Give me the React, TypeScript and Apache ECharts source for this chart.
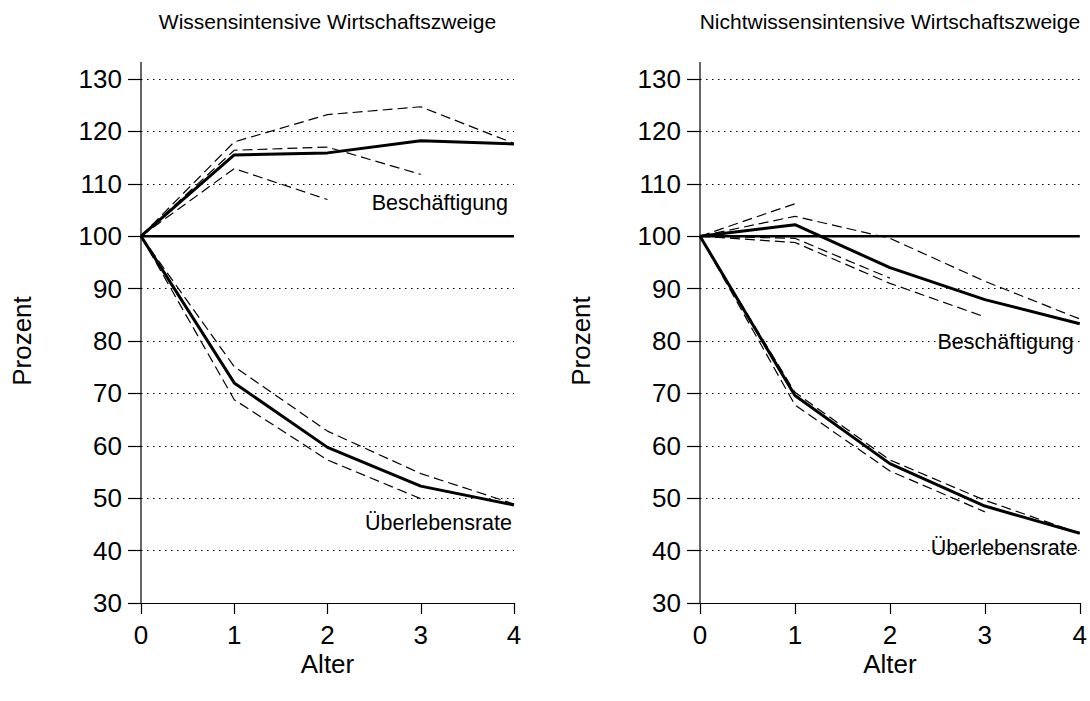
import React, { useEffect, useRef } from "react";
import * as echarts from "echarts";

// ---- data ----
const AGES = [0, 1, 2, 3, 4];
const Y_MIN = 30;
const Y_MAX = 130;
const Y_STEP = 10;
const X_MIN = 0;
const X_MAX = 4;

const TITLES = ["Wissensintensive Wirtschaftszweige", "Nichtwissensintensive Wirtschaftszweige"];
const Y_NAME = "Prozent";
const X_NAME = "Alter";
const LABEL_EMP = "Beschäftigung";
const LABEL_SURV = "Überlebensrate";

const BASELINE = [100, 100, 100, 100, 100];

// Left panel (Wissensintensive)
const L_EMP_MAIN = [100, 115.5, 115.9, 118.2, 117.6];
const L_EMP_D1 = [100, 118.0, 123.2, 124.7, 117.7];
const L_EMP_D2 = [100, 116.4, 117.0, 111.8];
const L_EMP_D3 = [100, 112.9, 107.0];
const L_SURV_MAIN = [100, 72.0, 59.7, 52.3, 48.7];
const L_SURV_D1 = [100, 75.1, 62.8, 54.7, 48.9];
const L_SURV_D2 = [100, 68.8, 57.3, 49.9];

// Right panel (Nichtwissensintensive)
const R_EMP_MAIN = [100, 102.2, 94.0, 87.9, 83.3];
const R_EMP_D1 = [100, 106.2];
const R_EMP_D2 = [100, 103.8, 99.6, 91.4, 84.2];
const R_EMP_D3 = [100, 99.6, 92.0];
const R_EMP_D4 = [100, 98.8, 91.0, 84.6];
const R_SURV_MAIN = [100, 69.6, 56.6, 48.5, 43.3];
const R_SURV_D1 = [100, 70.2, 57.3, 49.6, 43.3];
const R_SURV_D2 = [100, 67.8, 55.2, 47.4];

const PANELS = [
  {
    dashed: [L_EMP_D1, L_EMP_D2, L_EMP_D3, L_SURV_D1, L_SURV_D2],
    solid: [L_EMP_MAIN, L_SURV_MAIN],
    empLabelAt: [4, 106.4],
    survLabelAt: [4, 45.3],
  },
  {
    dashed: [R_EMP_D1, R_EMP_D2, R_EMP_D3, R_EMP_D4, R_SURV_D1, R_SURV_D2],
    solid: [R_EMP_MAIN, R_SURV_MAIN],
    empLabelAt: [4, 79.8],
    survLabelAt: [4, 40.5],
  },
];

const FONT = "'Liberation Sans', Arial, sans-serif";
const GRIDS = [
  { left: 141, top: 79, width: 373, height: 524 },
  { left: 700, top: 79, width: 382, height: 524 },
];

const toPts = (vals: number[]) => vals.map((v, i) => [AGES[i], v]);

export default function App() {
  const ref = useRef<HTMLDivElement>(null);
  useEffect(() => {
    if (!ref.current) return;
    const chart = echarts.init(ref.current, null, { renderer: "svg" });

    const series: any[] = [];
    PANELS.forEach((p, gi) => {
      p.dashed.forEach((d) =>
        series.push({
          type: "line",
          xAxisIndex: gi,
          yAxisIndex: gi,
          data: toPts(d),
          symbol: "none",
          lineStyle: { color: "#000", width: 1.2, type: [10, 5] },
          z: 3,
        })
      );
      series.push({
        type: "line",
        xAxisIndex: gi,
        yAxisIndex: gi,
        data: toPts(BASELINE),
        symbol: "none",
        lineStyle: { color: "#000", width: 2.6 },
        z: 4,
      });
      p.solid.forEach((d) =>
        series.push({
          type: "line",
          xAxisIndex: gi,
          yAxisIndex: gi,
          data: toPts(d),
          symbol: "none",
          lineStyle: { color: "#000", width: 3 },
          z: 5,
        })
      );
    });

    chart.setOption({
      animation: false,
      backgroundColor: "#fff",
      textStyle: { fontFamily: FONT },
      grid: GRIDS.map((g) => ({ ...g, containLabel: false })),
      xAxis: GRIDS.map((_, gi) => ({
        type: "value",
        gridIndex: gi,
        min: X_MIN,
        max: X_MAX,
        interval: 1,
        axisLine: { show: true, lineStyle: { color: "#000", width: 1.2 } },
        axisTick: { show: true, length: 11, lineStyle: { color: "#000", width: 1.2 } },
        axisLabel: { color: "#000", fontSize: 26, margin: 19, fontFamily: FONT },
        splitLine: { show: false },
      })),
      yAxis: GRIDS.map((_, gi) => ({
        type: "value",
        gridIndex: gi,
        min: Y_MIN,
        max: Y_MAX,
        interval: Y_STEP,
        axisLine: { show: false },
        axisTick: { show: true, length: 13, lineStyle: { color: "#000", width: 1.2 } },
        axisLabel: { color: "#000", fontSize: 26, margin: 19, fontFamily: FONT },
        splitLine: { show: true, lineStyle: { color: "#000", width: 1.2, type: [1.5, 4.5] } },
      })),
      series,
    });

    const graphic: any[] = [];
    GRIDS.forEach((g, gi) => {
      const top = chart.convertToPixel({ gridIndex: gi } as any, [X_MIN, Y_MAX]) as number[];
      const bottom = chart.convertToPixel({ gridIndex: gi } as any, [X_MIN, Y_MIN]) as number[];
      const right = chart.convertToPixel({ gridIndex: gi } as any, [X_MAX, Y_MIN]) as number[];
      const cx = (bottom[0] + right[0]) / 2;
      const cy = (top[1] + bottom[1]) / 2;
      graphic.push({
        type: "line",
        shape: { x1: top[0], y1: top[1] - 17, x2: bottom[0], y2: bottom[1] },
        style: { stroke: "#000", lineWidth: 1.2 },
        z: 10,
      });
      graphic.push({
        type: "text",
        x: cx,
        y: 21,
        style: { text: TITLES[gi], fontSize: 21, fontFamily: FONT, fill: "#000", align: "center", verticalAlign: "middle" },
      });
      graphic.push({
        type: "text",
        x: cx,
        y: 664,
        style: { text: X_NAME, fontSize: 26, fontFamily: FONT, fill: "#000", align: "center", verticalAlign: "middle" },
      });
      graphic.push({
        type: "text",
        x: bottom[0] - 119,
        y: cy,
        rotation: Math.PI / 2,
        style: { text: Y_NAME, fontSize: 26, fontFamily: FONT, fill: "#000", align: "center", verticalAlign: "middle" },
      });
      const p = PANELS[gi];
      const e = chart.convertToPixel({ gridIndex: gi } as any, p.empLabelAt) as number[];
      const s = chart.convertToPixel({ gridIndex: gi } as any, p.survLabelAt) as number[];
      graphic.push({
        type: "text",
        x: e[0] - 6,
        y: e[1],
        z: 20,
        style: { text: LABEL_EMP, fontSize: 21.5, fontFamily: FONT, fill: "#000", align: "right", verticalAlign: "middle" },
      });
      graphic.push({
        type: "text",
        x: s[0] - 2,
        y: s[1],
        z: 20,
        style: { text: LABEL_SURV, fontSize: 21.5, fontFamily: FONT, fill: "#000", align: "right", verticalAlign: "middle" },
      });
    });
    chart.setOption({ graphic });

    return () => chart.dispose();
  }, []);
  return <div ref={ref} style={{ position: "fixed", left: 0, top: 0, width: 1090, height: 701 }} />;
}
